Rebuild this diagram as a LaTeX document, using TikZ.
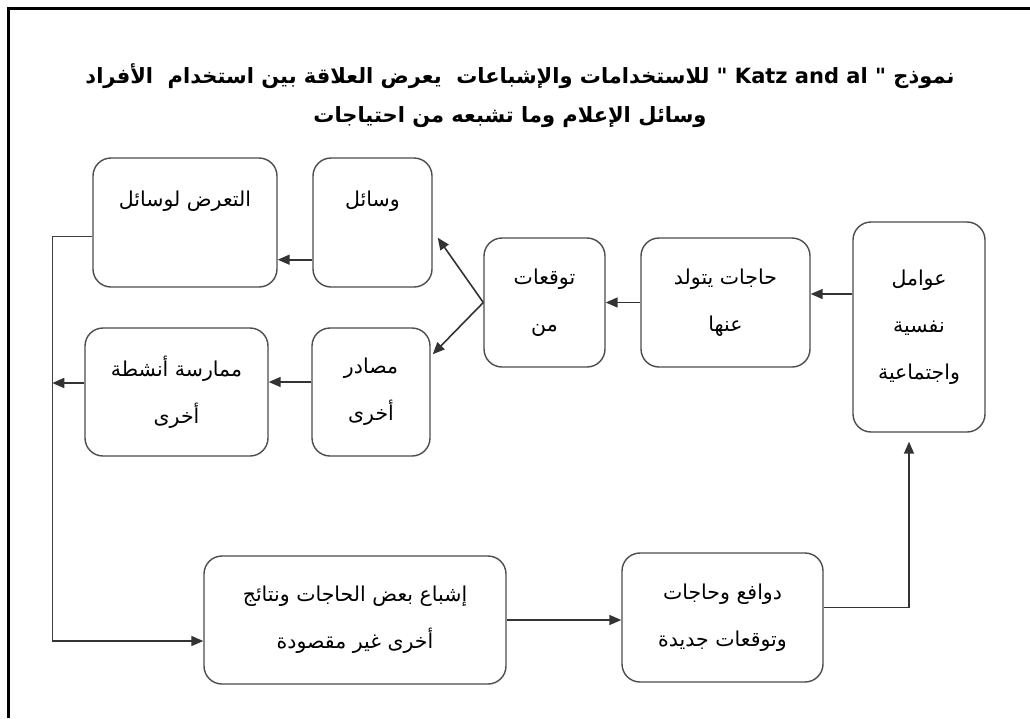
\documentclass[tikz,border=0pt]{standalone}
\usepackage{fontspec}
\usepackage{tikz}
\usetikzlibrary{arrows.meta,positioning}
\TeXXeTstate=1
\newfontfamily\arabicfont[Script=Arabic]{DejaVu Sans}
\newcommand{\arline}[1]{\beginR#1\endR}
\tikzset{
  box/.style={draw=black!70, line width=1.4pt, rounded corners=18pt, align=center,
              font=\arabicfont\fontsize{20.5}{47}\selectfont, inner sep=2pt},
  flowarrow/.style={-{Triangle[length=12pt,width=10pt]}, line width=1.6pt, draw=black!80},
  loopline/.style={line width=1.4pt, draw=black!75},
  titletext/.style={font=\arabicfont\bfseries\fontsize{21}{26}\selectfont, align=center},
  frame/.style={line width=3pt, draw=black}
}

\begin{document}
\begin{tikzpicture}[x=1pt, y=-1pt]
  \useasboundingbox (0,0) rectangle (1030,718);
  \draw[frame] (8,718) -- (8,8) -- (1030,8);

  \node[titletext] (t1) at (520,76)
    {\arline{نموذج \beginL" Katz and al "\endL{} للاستخدامات والإشباعات \ يعرض العلاقة بين استخدام \ الأفراد}};
  \node[titletext] (t2) at (510,117)
    {\arline{وسائل الإعلام وما تشبعه من احتياجات}};

  \node[box, minimum width=132pt, minimum height=210pt] (E) at (919,327)
    {\arline{عوامل}\\\arline{نفسية}\\\arline{واجتماعية}};
  \node[box, minimum width=169pt, minimum height=129pt] (D) at (725.5,302.5)
    {\arline{حاجات يتولد}\\\arline{عنها}};
  \node[box, minimum width=121pt, minimum height=129pt] (C) at (544.5,302.5)
    {\arline{توقعات}\\\arline{من}};
  \node[box, minimum width=119pt, minimum height=129pt] (B) at (372.5,222.5)
    {\arline{وسائل}\\\mbox{}};
  \node[box, minimum width=184pt, minimum height=129pt] (A) at (185,222.5)
    {\arline{التعرض لوسائل}\\\mbox{}};
  \node[box, minimum width=118pt, minimum height=128pt] (F) at (371,392)
    {\arline{مصادر}\\\arline{أخرى}};
  \node[box, minimum width=183pt, minimum height=128pt] (G) at (176.5,392)
    {\arline{ممارسة أنشطة}\\\arline{أخرى}};
  \node[box, minimum width=302pt, minimum height=128pt] (H) at (355,620)
    {\arline{إشباع بعض الحاجات ونتائج}\\\arline{أخرى غير مقصودة}};
  \node[box, minimum width=201pt, minimum height=129pt] (I) at (722.5,617.5)
    {\arline{دوافع وحاجات}\\\arline{وتوقعات جديدة}};

  \coordinate (e1) at ([yshift=33pt]E.west);
  \coordinate (b1) at ([yshift=28pt]B.south west);
  \coordinate (f1) at ([yshift=10pt]F.west);
  \coordinate (a1) at ([yshift=-14pt]A.west);
  \coordinate (lx) at ([xshift=-40pt]A.west);
  \coordinate (g1) at ([yshift=9pt]G.west);
  \coordinate (h1) at ([yshift=-21pt]H.west);
  \coordinate (i1) at ([yshift=10pt]I.east);
  \coordinate (e2) at ([xshift=-10pt,yshift=-9pt]E.south);

  \draw[flowarrow] (e1) -- (e1 -| D.east);
  \draw[flowarrow] (D) -- (C);
  \draw[flowarrow] (C.west) -- ([xshift=5pt,yshift=50pt]B.south east);
  \draw[flowarrow] (C.west) -- ([xshift=2pt,yshift=-27pt]F.north east);
  \draw[flowarrow] (b1) -- (b1 -| A.east);
  \draw[flowarrow] (f1) -- (f1 -| G.east);
  \draw[loopline] (a1) -- (a1 -| lx) -- (lx |- h1);
  \draw[flowarrow] (lx |- h1) -- (h1);
  \draw[flowarrow] (g1) -- (g1 -| lx);
  \draw[flowarrow] (H.east) -- (H.east -| I.west);
  \draw[flowarrow] (i1) -- (i1 -| e2) -- (e2);
\end{tikzpicture}
\end{document}
